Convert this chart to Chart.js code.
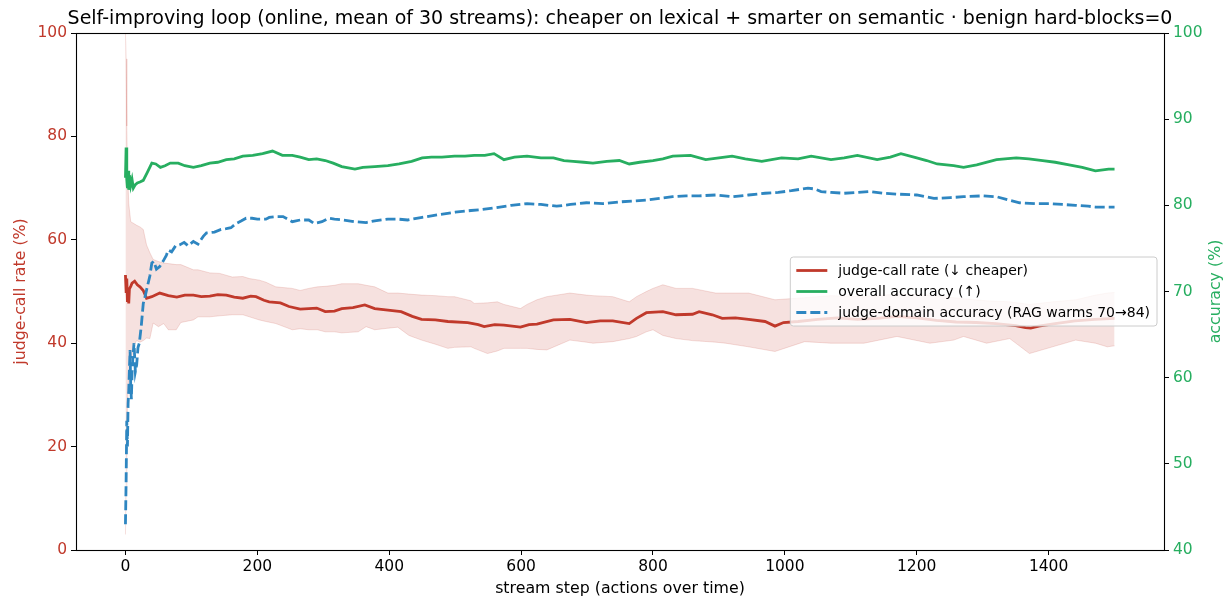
<!DOCTYPE html>
<html lang="en">
<head>
  <meta charset="UTF-8">
  <title>Self-improving loop</title>
  <script src="https://cdn.jsdelivr.net/npm/chart.js"></script>
  <style>
    html, body { margin: 0; padding: 0; background: #fff; }
    .chart-box { position: relative; width: 1225px; height: 598px; }
  </style>
</head>
<body>
  <div class="chart-box"><canvas id="loopChart"></canvas></div>

  <script>
    // tick labels
    const xTicks = [0, 200, 400, 600, 800, 1000, 1200, 1400];
    const rateTicks = [0, 20, 40, 60, 80, 100];
    const accTicks = [40, 50, 60, 70, 80, 90, 100];

    // judge-call rate (%), mean over streams
    const rateSteps = [
      0, 1, 2, 3, 4, 5, 6, 8, 10, 14,
      18, 22, 27, 32, 40, 52, 65, 78, 90, 103,
      115, 128, 140, 153, 165, 178, 190, 198, 210, 218,
      235, 248, 265, 278, 290, 303, 317, 328, 345, 363,
      378, 398, 418, 435, 449, 470, 489, 519, 535, 544,
      560, 574, 599, 612, 624, 649, 674, 699, 720, 739,
      764, 775, 790, 815, 835, 860, 870, 890, 905, 925,
      945, 970, 985, 998, 1020, 1050, 1080, 1110, 1140, 1170,
      1200, 1230, 1260, 1290, 1320, 1350, 1365, 1373, 1385, 1410,
      1440, 1470, 1500
    ];
    const rateVals = [
      53.2, 50.0, 52.5, 48.0, 49.5, 47.7, 50.5, 51.0, 51.6, 52.0,
      51.3, 50.9, 50.2, 48.7, 49.0, 49.7, 49.2, 48.9, 49.3, 49.3,
      49.0, 49.1, 49.4, 49.3, 48.9, 48.7, 49.1, 49.0, 48.3, 48.0,
      47.8, 47.1, 46.6, 46.7, 46.8, 46.1, 46.2, 46.7, 46.9, 47.4,
      46.7, 46.4, 46.1, 45.2, 44.6, 44.5, 44.2, 44.0, 43.6, 43.2,
      43.6, 43.5, 43.1, 43.6, 43.7, 44.5, 44.6, 44.0, 44.3, 44.3,
      43.8, 44.8, 45.9, 46.1, 45.5, 45.6, 46.1, 45.5, 44.8, 44.9,
      44.6, 44.2, 43.3, 44.0, 44.2, 44.6, 44.9, 44.6, 44.8, 45.2,
      44.9, 44.4, 44.1, 44.0, 43.8, 43.4, 43.0, 42.9, 43.3, 43.8,
      44.3, 44.6, 44.8
    ];

    // spread band around the judge-call rate
    const bandSteps = [
      0, 1, 2, 3, 5, 8, 12, 17, 22, 27,
      32, 37, 42, 50, 58, 65, 77, 84, 103, 110,
      128, 143, 162, 178, 188, 203, 213, 228, 253, 265,
      278, 291, 303, 317, 328, 353, 365, 378, 398, 413,
      430, 449, 470, 489, 499, 524, 529, 549, 564, 574,
      599, 609, 624, 639, 674, 699, 709, 739, 764, 775,
      790, 800, 815, 835, 860, 895, 910, 945, 985, 1030,
      1070, 1120, 1170, 1220, 1256, 1271, 1306, 1341, 1371, 1406,
      1441, 1471, 1489, 1500
    ];
    const bandHigh = [
      100, 95, 82, 74, 67, 63.5, 63.2, 62.8, 62.5, 62.0,
      59.0, 57.5, 56.2, 55.8, 55.5, 55.4, 55.2, 55.2, 54.2, 54.2,
      53.6, 53.5, 52.8, 52.9, 52.5, 52.2, 51.8, 50.9, 50.6, 50.2,
      50.6, 50.9, 51.0, 51.2, 51.5, 51.5, 51.2, 50.9, 49.7, 49.7,
      49.5, 49.3, 49.2, 49.0, 49.0, 48.2, 47.7, 47.8, 48.0, 47.5,
      46.7, 47.5, 48.4, 49.0, 49.7, 49.3, 49.2, 49.0, 48.0, 49.0,
      50.0, 50.6, 51.3, 50.6, 50.6, 49.7, 49.7, 49.7, 48.4, 48.8,
      49.2, 49.0, 49.5, 49.3, 48.8, 48.6, 48.2, 48.0, 47.5, 48.0,
      48.4, 49.3, 49.7, 49.8
    ];
    const bandLow = [
      3, 12, 22, 28, 33, 36, 39.5, 40.5, 40.2, 40.5,
      41.0, 40.9, 43.9, 43.2, 43.8, 42.6, 42.6, 44.0, 44.5, 45.1,
      45.1, 45.3, 45.5, 45.5, 45.1, 44.5, 44.2, 43.8, 42.6, 42.8,
      42.6, 42.6, 42.2, 42.2, 42.0, 42.2, 43.2, 42.6, 42.9, 43.1,
      41.5, 40.6, 39.8, 39.0, 39.2, 39.3, 39.0, 38.0, 38.5, 39.0,
      39.0, 39.0, 38.8, 38.7, 40.6, 40.2, 40.0, 40.3, 40.9, 41.3,
      42.2, 42.6, 41.5, 40.9, 40.5, 40.2, 40.0, 39.3, 38.4, 40.3,
      40.0, 40.0, 41.3, 40.0, 40.6, 41.3, 40.0, 40.9, 38.0, 39.3,
      40.6, 40.0, 39.3, 39.5
    ];

    // overall accuracy (%)
    const accSteps = [
      0, 1, 2, 3, 4, 5, 6, 8, 10, 12,
      15, 18, 22, 27, 33, 40, 46, 53, 60, 68,
      80, 90, 103, 115, 128, 140, 153, 165, 178, 193,
      208, 223, 238, 253, 265, 278, 290, 303, 315, 328,
      348, 360, 378, 398, 415, 434, 450, 464, 480, 499,
      515, 529, 545, 559, 574, 590, 609, 630, 649, 665,
      679, 695, 709, 730, 749, 764, 780, 800, 815, 830,
      857, 880, 900, 920, 940, 965, 995, 1020, 1040, 1070,
      1090, 1110, 1140, 1160, 1176, 1200, 1215, 1231, 1256, 1271,
      1291, 1321, 1351, 1370, 1391, 1410, 1431, 1451, 1471, 1491,
      1500
    ];
    const accVals = [
      83.2, 86.7, 83.0, 82.0, 84.0, 81.8, 83.5, 82.3, 83.0, 82.0,
      82.4, 82.6, 82.7, 82.9, 83.8, 84.9, 84.8, 84.4, 84.6, 84.9,
      84.9, 84.6, 84.4, 84.6, 84.9, 85.0, 85.3, 85.4, 85.7, 85.8,
      86.0, 86.3, 85.8, 85.8, 85.6, 85.3, 85.4, 85.2, 84.9, 84.5,
      84.2, 84.4, 84.5, 84.6, 84.8, 85.1, 85.5, 85.6, 85.6, 85.7,
      85.7, 85.8, 85.8, 86.0, 85.3, 85.6, 85.7, 85.5, 85.5, 85.2,
      85.1, 85.0, 84.9, 85.1, 85.2, 84.8, 85.0, 85.2, 85.4, 85.7,
      85.8, 85.3, 85.5, 85.7, 85.4, 85.1, 85.5, 85.4, 85.7, 85.3,
      85.5, 85.8, 85.3, 85.6, 86.0, 85.5, 85.2, 84.8, 84.6, 84.4,
      84.7, 85.3, 85.5, 85.4, 85.2, 85.0, 84.7, 84.4, 84.0, 84.2,
      84.2
    ];

    // judge-domain accuracy (%)
    const domSteps = [
      0, 1, 2, 3, 4, 5, 6, 7, 8, 9,
      10, 11, 13, 15, 17, 19, 21, 24, 27, 30,
      33, 37, 40, 43, 47, 52, 57, 62, 65, 70,
      76, 82, 89, 95, 103, 110, 118, 123, 135, 145,
      153, 160, 168, 176, 183, 192, 200, 213, 218, 230,
      239, 253, 265, 278, 286, 298, 308, 317, 330, 348,
      365, 378, 398, 413, 428, 450, 474, 500, 524, 540,
      559, 585, 609, 630, 654, 675, 699, 724, 749, 770,
      790, 810, 830, 850, 870, 895, 920, 945, 970, 990,
      1010, 1035, 1045, 1055, 1070, 1090, 1110, 1130, 1150, 1170,
      1200, 1226, 1251, 1271, 1301, 1321, 1340, 1356, 1380, 1401,
      1421, 1441, 1460, 1471, 1486, 1500
    ];
    const domVals = [
      43.0, 48.0, 55.0, 52.0, 57.0, 58.5, 61.0, 63.2, 59.0, 57.5,
      60.5, 62.0, 64.0, 60.7, 61.5, 63.5, 64.0, 66.0, 68.6, 69.5,
      70.5, 71.8, 73.3, 73.5, 72.6, 72.9, 73.5, 74.2, 74.8, 74.6,
      75.3, 75.4, 75.7, 75.3, 75.8, 75.5, 76.4, 76.8, 76.9, 77.2,
      77.3, 77.4, 77.9, 78.2, 78.5, 78.5, 78.4, 78.4, 78.6, 78.7,
      78.7, 78.1, 78.3, 78.3, 77.9, 78.1, 78.5, 78.4, 78.3, 78.1,
      78.0, 78.2, 78.4, 78.4, 78.3, 78.6, 78.9, 79.2, 79.4, 79.5,
      79.7, 80.0, 80.2, 80.1, 79.9, 80.1, 80.3, 80.2, 80.4, 80.5,
      80.6, 80.8, 81.0, 81.1, 81.1, 81.2, 81.0, 81.2, 81.4, 81.5,
      81.7, 82.0, 81.9, 81.6, 81.5, 81.4, 81.5, 81.6, 81.4, 81.3,
      81.2, 80.8, 80.9, 81.0, 81.1, 81.0, 80.6, 80.3, 80.2, 80.2,
      80.1, 80.0, 79.9, 79.8, 79.8, 79.8
    ];

    const RED = '#c0392b';
    const GREEN = '#27ae60';
    const BLUE = '#2e86c1';
    const FONT = '"DejaVu Sans", sans-serif';
    const TICK_SIZE = 15.5;
    const LABEL_SIZE = 15.8;

    const pts = (xs, ys) => xs.map((x, i) => ({ x: x, y: ys[i] }));

    // title, axes frame, right axis label and the legend box inside the plot
    const framePlugin = {
      id: 'frameAndLegend',
      afterDatasetsDraw(chart) {
        const ctx = chart.ctx;
        const area = chart.chartArea;
        ctx.save();

        ctx.strokeStyle = '#000';
        ctx.lineWidth = 1.1;
        ctx.strokeRect(Math.round(area.left) + 0.5, Math.round(area.top) + 0.5,
          Math.round(area.right - area.left), Math.round(area.bottom - area.top));

        ctx.fillStyle = '#000';
        ctx.font = '19px ' + FONT;
        ctx.textAlign = 'center';
        ctx.textBaseline = 'alphabetic';
        ctx.fillText('Self-improving loop (online, mean of 30 streams): cheaper on lexical + smarter on semantic \u00b7 benign hard-blocks=0',
          (area.left + area.right) / 2, 24);

        // right axis label reads bottom to top like the left one
        ctx.save();
        ctx.translate(1216, (area.top + area.bottom) / 2);
        ctx.rotate(-Math.PI / 2);
        ctx.font = LABEL_SIZE + 'px ' + FONT;
        ctx.fillStyle = GREEN;
        ctx.textBaseline = 'middle';
        ctx.fillText('accuracy (%)', 0, 0);
        ctx.restore();

        const items = chart.data.datasets
          .filter(d => d.legendOrder)
          .sort((a, b) => a.legendOrder - b.legendOrder);
        ctx.font = '14px ' + FONT;
        const textW = Math.max(...items.map(d => ctx.measureText(d.label).width));
        const rowH = 21;
        const boxW = 6 + 31 + 11 + textW + 7;
        const boxH = rowH * items.length + 6;
        const right = area.right - 7;
        const left = right - boxW;
        const top = (area.top + area.bottom) / 2 - boxH / 2;

        ctx.beginPath();
        ctx.roundRect(left, top, boxW, boxH, 3);
        ctx.fillStyle = 'rgba(255,255,255,0.8)';
        ctx.fill();
        ctx.strokeStyle = '#cccccc';
        ctx.lineWidth = 1;
        ctx.stroke();

        ctx.textAlign = 'left';
        ctx.textBaseline = 'middle';
        items.forEach((d, i) => {
          const y = top + 3 + rowH * (i + 0.5);
          ctx.beginPath();
          ctx.setLineDash(d.borderDash || []);
          ctx.strokeStyle = d.borderColor;
          ctx.lineWidth = d.borderWidth;
          ctx.moveTo(left + 6, y);
          ctx.lineTo(left + 37, y);
          ctx.stroke();
          ctx.setLineDash([]);
          ctx.fillStyle = '#000';
          ctx.fillText(d.label, left + 48, y + 1);
        });
        ctx.restore();
      }
    };

    const tickGrid = {
      drawOnChartArea: false,
      color: '#000',
      tickColor: '#000',
      tickLength: 5,
      tickWidth: 1
    };
    const plainLabel = v => String(v);

    new Chart(document.getElementById('loopChart'), {
      type: 'line',
      data: {
        datasets: [
          {
            label: 'judge-domain accuracy (RAG warms 70\u219284)',
            data: pts(domSteps, domVals),
            yAxisID: 'y2',
            borderColor: BLUE,
            borderWidth: 2.8,
            borderDash: [10, 4],
            legendOrder: 3
          },
          {
            label: 'overall accuracy (\u2191)',
            data: pts(accSteps, accVals),
            yAxisID: 'y2',
            borderColor: GREEN,
            borderWidth: 2.8,
            legendOrder: 2
          },
          {
            label: 'judge-call rate (\u2193 cheaper)',
            data: pts(rateSteps, rateVals),
            yAxisID: 'y',
            borderColor: RED,
            borderWidth: 2.8,
            legendOrder: 1
          },
          {
            label: 'band high',
            data: pts(bandSteps, bandHigh),
            yAxisID: 'y',
            borderColor: 'rgba(192,57,43,0.16)',
            backgroundColor: 'rgba(192,57,43,0.15)',
            borderWidth: 1,
            fill: '+1'
          },
          {
            label: 'band low',
            data: pts(bandSteps, bandLow),
            yAxisID: 'y',
            borderColor: 'rgba(192,57,43,0.16)',
            borderWidth: 1,
            fill: false
          }
        ]
      },
      options: {
        responsive: true,
        maintainAspectRatio: false,
        animation: false,
        elements: { point: { radius: 0 }, line: { tension: 0 } },
        layout: { padding: { top: 33, right: 0, bottom: 0, left: 0 } },
        plugins: {
          legend: { display: false },
          tooltip: { enabled: false },
          title: { display: false }
        },
        scales: {
          x: {
            type: 'linear',
            position: 'bottom',
            min: -75,
            max: 1575,
            afterBuildTicks: s => { s.ticks = xTicks.map(v => ({ value: v })); },
            afterFit: s => { s.height = 48; },
            grid: tickGrid,
            border: { display: false },
            ticks: { color: '#000', font: { family: FONT, size: TICK_SIZE }, padding: 3, maxRotation: 0, callback: plainLabel },
            title: {
              display: true,
              text: 'stream step (actions over time)',
              color: '#000',
              font: { family: FONT, size: LABEL_SIZE },
              padding: { top: 0, bottom: 0 }
            }
          },
          y: {
            position: 'left',
            min: 0,
            max: 100,
            afterBuildTicks: s => { s.ticks = rateTicks.map(v => ({ value: v })); },
            afterFit: s => { s.width = 76; },
            grid: tickGrid,
            border: { display: false },
            ticks: { color: RED, font: { family: FONT, size: TICK_SIZE }, padding: 4, callback: plainLabel },
            title: {
              display: true,
              text: 'judge-call rate (%)',
              color: RED,
              font: { family: FONT, size: LABEL_SIZE },
              padding: { top: 11, bottom: 0 }
            }
          },
          y2: {
            position: 'right',
            min: 40,
            max: 100,
            afterBuildTicks: s => { s.ticks = accTicks.map(v => ({ value: v })); },
            afterFit: s => { s.width = 61; },
            grid: tickGrid,
            border: { display: false },
            ticks: { color: GREEN, font: { family: FONT, size: TICK_SIZE }, padding: 4, callback: plainLabel },
            title: { display: false }
          }
        }
      },
      plugins: [framePlugin]
    });
  </script>
</body>
</html>
